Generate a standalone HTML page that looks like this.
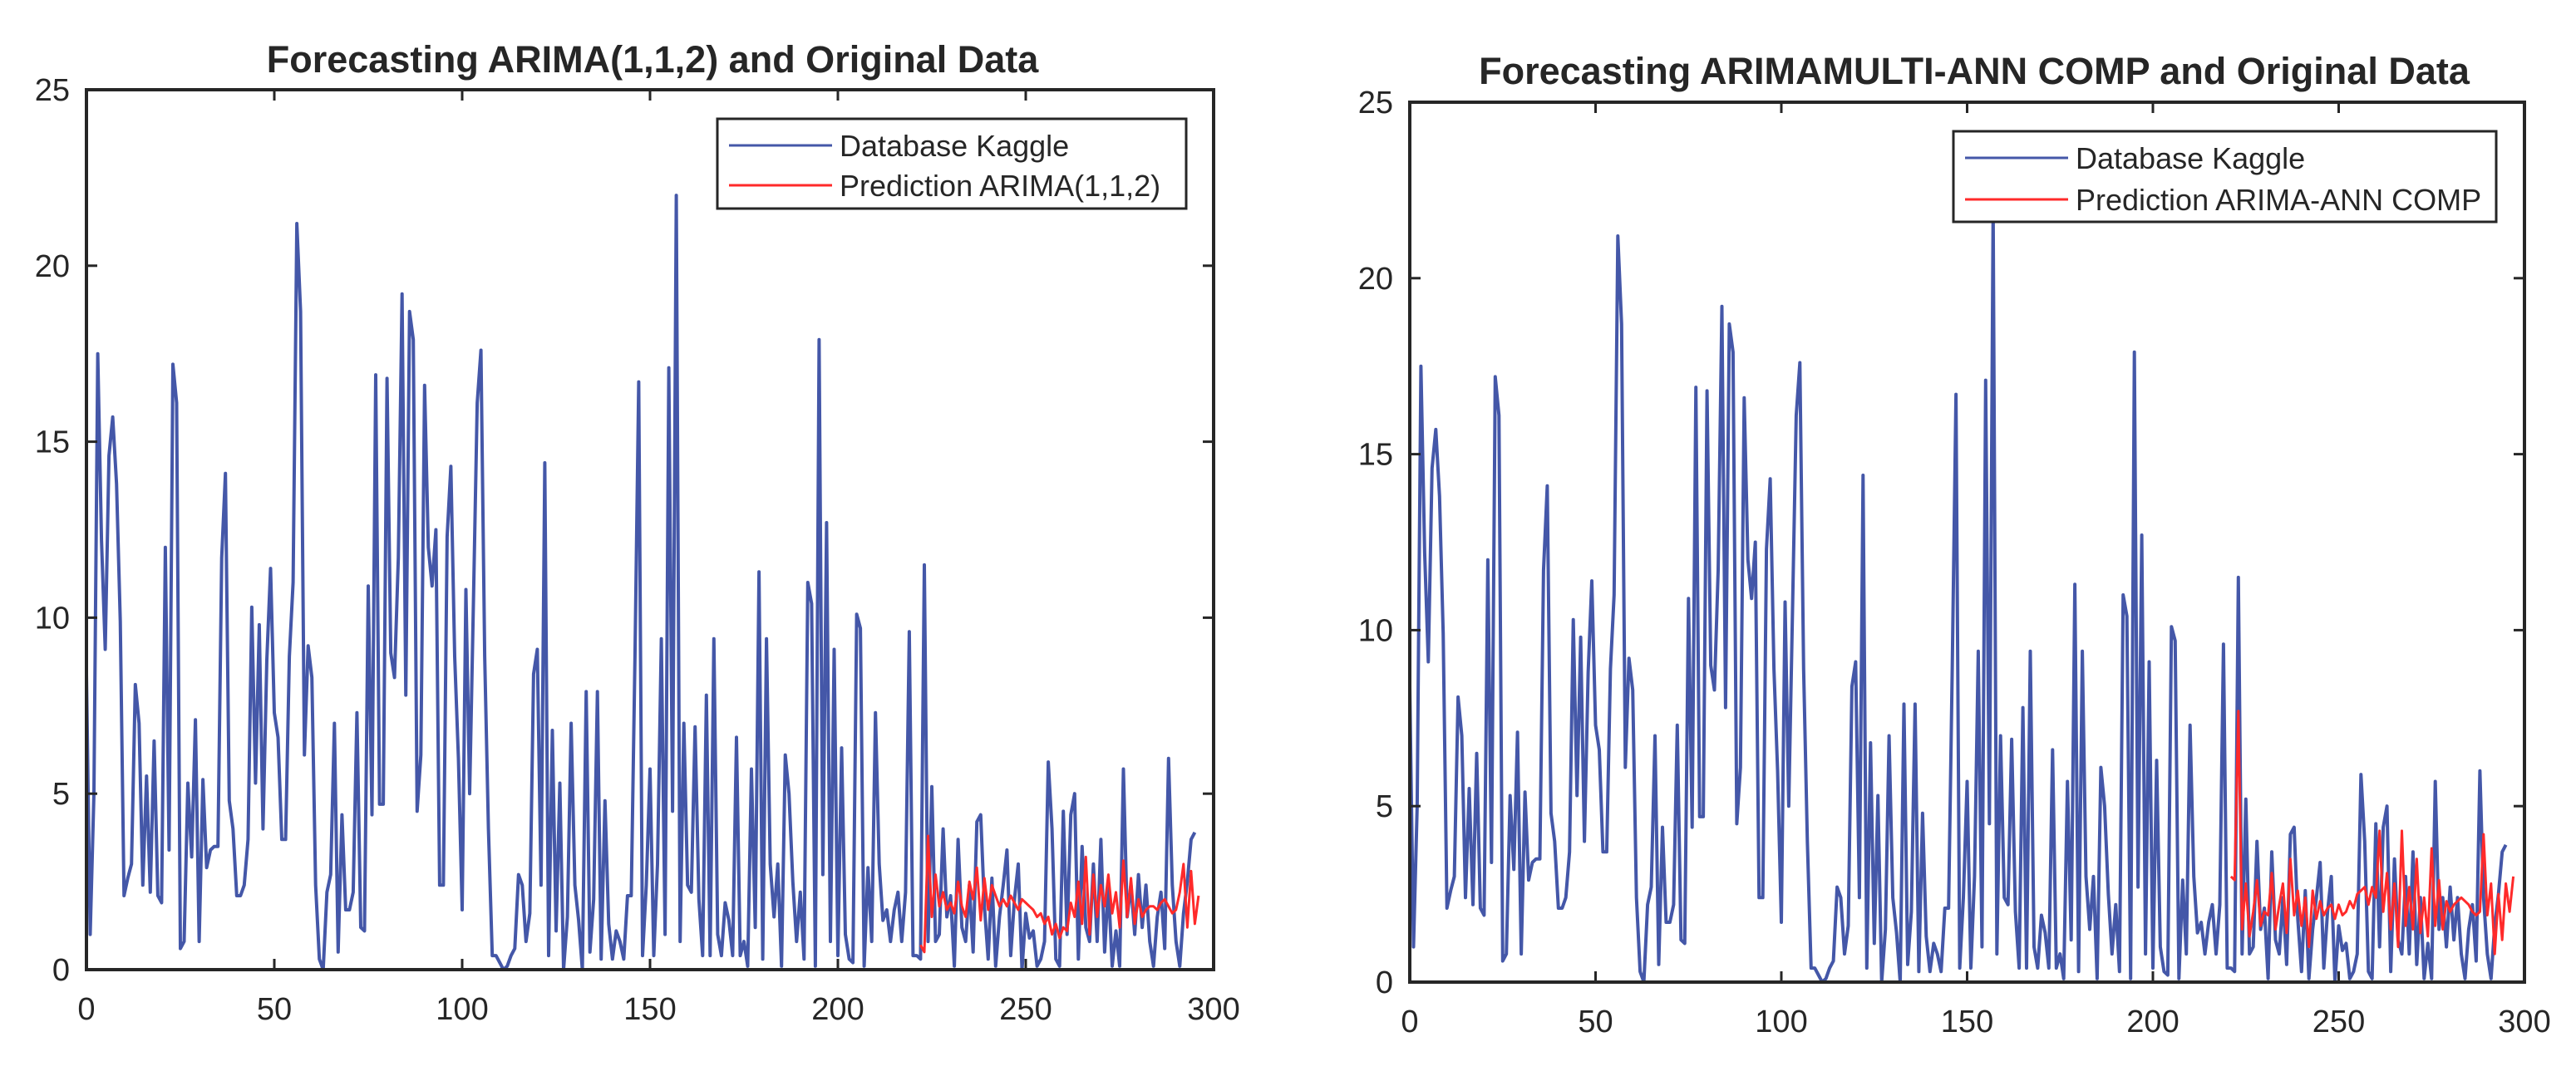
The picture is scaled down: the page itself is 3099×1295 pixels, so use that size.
<!DOCTYPE html>
<html><head><meta charset="utf-8"><style>
html,body{margin:0;padding:0;background:#fff;}
svg{display:block;font-family:"Liberation Sans",Arial,sans-serif;}
</style></head><body>
<svg id="chart" width="3099" height="1295" viewBox="0 0 3099 1295" xmlns="http://www.w3.org/2000/svg"></svg>
<script>
const xTicks = [0,50,100,150,200,250,300];
const yTicks = [0,5,10,15,20,25];
const seriesDatabase = [8.4,1.0,5,17.5,12.2,9.1,14.6,15.7,13.8,9.9,2.1,2.6,3.0,8.1,7.0,2.4,5.5,2.2,6.5,2.1,1.9,12.0,3.4,17.2,16.1,0.6,0.8,5.3,3.2,7.1,0.8,5.4,2.9,3.4,3.5,3.5,11.7,14.1,4.8,4.0,2.1,2.1,2.4,3.7,10.3,5.3,9.8,4.0,8.8,11.4,7.3,6.6,3.7,3.7,8.9,11.0,21.2,18.7,6.1,9.2,8.3,2.4,0.3,0,2.2,2.7,7.0,0.5,4.4,1.7,1.7,2.2,7.3,1.2,1.1,
10.9,4.4,16.9,4.7,4.7,16.8,9.0,8.3,11.7,19.2,7.8,18.7,17.9,4.5,6.1,16.6,12.0,10.9,12.5,2.4,2.4,12.3,14.3,8.9,6.0,1.7,10.8,5.0,10.5,16.1,17.6,8.9,4.0,0.4,0.4,0.2,0,0.1,0.4,0.6,2.7,2.4,0.8,1.6,8.4,9.1,2.4,14.4,0.4,6.8,1.1,5.3,0,1.5,7.0,2.4,1.4,0,7.9,0.5,2.0,7.9,0.3,4.8,1.3,0.3,1.1,0.8,0.3,2.1,2.1,8.9,16.7,0.4,2.4,5.7,
0.4,3.0,9.4,1.0,17.1,4.5,22.0,
0.8,7.0,2.4,2.2,6.9,2.0,0.4,7.8,0.4,9.4,1.0,0.4,1.9,1.4,0.4,6.6,0.4,0.8,0.1,5.7,1.2,11.3,0.3,9.4,3.0,1.5,3.0,0.1,6.1,5.0,2.5,0.8,2.2,0.3,11.0,10.4,0.1,
17.9,2.7,12.7,0.8,9.1,0.4,6.3,1.0,0.3,0.2,10.1,9.7,0.1,2.9,0.8,7.3,3.0,1.4,1.7,0.8,1.7,2.2,0.8,2.2,9.6,0.4,0.4,0.3,11.5,0.8,
5.2,0.8,1.0,4.0,1.5,2.1,0.1,3.7,1.2,0.8,2.4,0.5,4.2,4.4,1.8,0.3,2.6,0.1,1.5,2.4,3.4,0.4,2.0,3.0,0,1.6,0.9,1.1,0.1,0.3,0.8,5.9,4.0,0.3,0.1,4.5,1.0,4.4,5.0,0.3,3.5,1.2,0.8,3.0,0.8,3.7,0.5,2.4,0.1,1.1,0.1,5.7,1.5,2.4,1.0,2.7,1.2,2.4,0.8,0.1,1.5,2.2,0.6,6.0,2.4,0.8,0.1,1.6,2.5,3.7,3.9];
const arimaStart = 222;
const seriesArima = [0.7,0.5,3.8,1.5,2.7,1.8,2.2,1.7,1.9,1.6,2.5,1.8,1.5,2.5,2.0,2.9,1.4,2.6,1.7,2.4,2.1,1.8,2.0,1.8,2.1,1.9,1.7,2.0,1.9,1.8,1.7,1.5,1.6,1.3,1.5,1.0,1.3,0.9,1.2,1.1,1.9,1.5,2.5,1.3,3.2,1.0,2.7,1.5,2.4,1.8,2.7,1.6,2.2,1.2,3.1,1.5,2.6,1.3,2.0,1.5,1.7,1.8,1.8,1.7,1.9,2.0,1.8,1.6,1.7,2.2,3.0,1.2,2.8,1.3,2.1];
const annStart = 221;
const seriesAnn = [3.0,2.9,7.7,1.5,2.8,1.3,2.0,2.9,1.6,2.0,1.9,3.1,1.5,2.2,2.8,1.4,3.5,1.9,2.6,1.6,2.4,1.0,2.6,1.8,2.3,1.9,2.1,2.2,1.8,2.2,1.9,2.0,2.3,2.1,2.5,2.6,2.7,2.2,2.7,2.4,4.3,2.0,3.1,1.5,2.8,1.0,4.3,1.6,2.7,1.5,3.5,1.4,2.4,1.3,3.8,1.6,2.9,1.5,2.3,2.0,2.2,2.3,2.4,2.3,2.2,2.0,1.9,2.0,4.2,1.9,2.8,0.8,2.5,1.2,2.8,2.0,3.0];

const NS='http://www.w3.org/2000/svg';
const svg=document.getElementById('chart');
function mk(tag,attrs,parent){const e=document.createElementNS(NS,tag);for(const k in attrs)e.setAttribute(k,attrs[k]);(parent||svg).appendChild(e);return e;}

function panel(cfg){
  const g=mk('g',{});
  
  
  const X=v=>cfg.x0+(v-0)/300*(cfg.x1-cfg.x0);
  const Y=v=>cfg.y1-(v/25)*(cfg.y1-cfg.y0);
  const title=mk('text',{x:cfg.tx,y:cfg.ty,'text-anchor':'middle','font-size':45,'font-weight':'bold',fill:'#262626'},g);
  title.textContent=cfg.title;
  
  
  const cid='clip'+cfg.id;
  const cp=mk('clipPath',{id:cid},g);
  mk('rect',{x:cfg.x0,y:cfg.y0,width:cfg.x1-cfg.x0,height:cfg.y1-cfg.y0},cp);
  const plot=mk('g',{'clip-path':'url(#'+cid+')'},g);
  let d=seriesDatabase.map((v,i)=>(i?'L':'M')+X(i).toFixed(1)+' '+Y(v).toFixed(1)).join(' ');
  const bl=mk('path',{d:d,fill:'none',stroke:'#4457a8','stroke-width':4,'stroke-linejoin':'round'},plot);
  
  
  d=cfg.pred.map((v,i)=>(i?'L':'M')+X(cfg.start+i).toFixed(1)+' '+Y(v).toFixed(1)).join(' ');
  const rl=mk('path',{d:d,fill:'none',stroke:'#ff2a2a','stroke-width':3,'stroke-linejoin':'round'},plot);
  
  
  const box=mk('rect',{x:cfg.x0,y:cfg.y0,width:cfg.x1-cfg.x0,height:cfg.y1-cfg.y0,fill:'none',stroke:'#262626','stroke-width':4},g);
  
  
  xTicks.forEach(t=>{
    const x=X(t);
    mk('line',{x1:x,y1:cfg.y1,x2:x,y2:cfg.y1-13,stroke:'#262626','stroke-width':3},g);
    mk('line',{x1:x,y1:cfg.y0,x2:x,y2:cfg.y0+13,stroke:'#262626','stroke-width':3},g);
    const tl=mk('text',{x:x,y:cfg.y1+60,'text-anchor':'middle','font-size':38,fill:'#262626'},g);
    tl.textContent=t;
    
    
  });
  yTicks.forEach(t=>{
    const y=Y(t);
    mk('line',{x1:cfg.x0,y1:y,x2:cfg.x0+13,y2:y,stroke:'#262626','stroke-width':3},g);
    mk('line',{x1:cfg.x1,y1:y,x2:cfg.x1-13,y2:y,stroke:'#262626','stroke-width':3},g);
    const tl=mk('text',{x:cfg.x0-20,y:y+13,'text-anchor':'end','font-size':38,fill:'#262626'},g);
    tl.textContent=t;
    
    
  });
  const L=cfg.leg;
  const lg=mk('g',{},g);
  
  
  mk('rect',{x:L.x,y:L.y,width:L.w,height:L.h,fill:'#fff',stroke:'#262626','stroke-width':3},lg);
  [[cfg.name1,'#4457a8',L.r1],[cfg.name2,'#ff2a2a',L.r2]].forEach(([txt,col,ry])=>{
    mk('line',{x1:L.x+14,y1:ry,x2:L.x+138,y2:ry,stroke:col,'stroke-width':3},lg);
    const t=mk('text',{x:L.x+147,y:ry+13,'font-size':36,fill:'#262626'},lg);
    t.textContent=txt;
    
    
  });
}
panel({id:1,name:'left-panel-arima',x0:104,x1:1460,y0:108,y1:1167,tx:785,ty:87,
  title:'Forecasting ARIMA(1,1,2) and Original Data',pred:seriesArima,start:arimaStart,
  name1:'Database Kaggle',name2:'Prediction ARIMA(1,1,2)',
  leg:{x:863,y:143,w:564,h:108,r1:175,r2:223}});
panel({id:2,name:'right-panel-arima-ann',x0:1696,x1:3037,y0:123,y1:1182,tx:2375,ty:101,
  title:'Forecasting ARIMAMULTI-ANN COMP and Original Data',pred:seriesAnn,start:annStart,
  name1:'Database Kaggle',name2:'Prediction ARIMA-ANN COMP',
  leg:{x:2350,y:158,w:653,h:109,r1:190,r2:240}});
</script>
</body></html>
